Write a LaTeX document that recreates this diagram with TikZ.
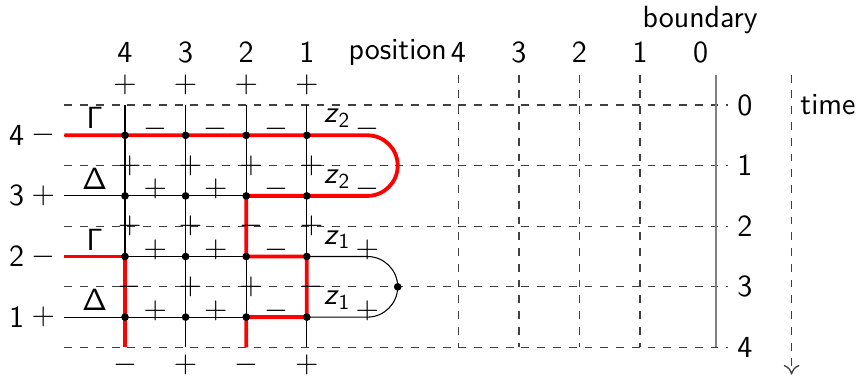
\documentclass[tikz,border=0pt]{standalone}
\usetikzlibrary{arrows.meta,positioning,calc}
\renewcommand{\familydefault}{\sfdefault}
\definecolor{chemin}{HTML}{FF0000}
\tikzset{
  fil/.style={line width=0.5pt, draw=black},
  chem/.style={line width=1.8pt, draw=chemin},
  grille/.style={dash pattern=on 3.7pt off 3.7pt, line width=0.6pt, draw=black!75},
  bord/.style={line width=1pt, draw=gray},
  pt/.style={circle, fill=black, inner sep=0pt, minimum size=3.6pt},
  lab/.style={inner sep=0pt, font=\Large},
}

\begin{document}
\begin{tikzpicture}
    \useasboundingbox (-1.063,-4.49) rectangle (13.063,1.733);
    % coordonnees: colonne c, ligne r
    \foreach \c in {1,...,4} {
      \coordinate (h-\c) at (5-\c,0);
      \coordinate (b-\c) at (5-\c,-4);
      \foreach \r in {1,...,4} { \coordinate (v-\c-\r) at (5-\c,\r-4.5); }
    }
    \foreach \r in {1,...,4} {
      \coordinate (l-\r) at (0,\r-4.5);
      \coordinate (e-\r) at (5,\r-4.5);
    }
    % grille en pointilles
    \foreach \t in {0,...,4} {
      \coordinate (g\t) at (0,-\t); \coordinate (d\t) at (10.95,-\t);
      \draw[grille] (g\t) -- (d\t);
      \node[lab, anchor=west] (t\t) at (11.1,-\t) {\t};
    }
    \foreach \p [count=\k] in {4,3,2,1} {
      \coordinate (p\p) at (5.5+\k,0.5); \coordinate (q\p) at (5.5+\k,-4);
      \draw[grille] (p\p) -- (q\p);
      \node[lab] (n\p) at (5.5+\k,0.87) {\p};
    }
    \node[lab] (n0) at (10.5,0.87) {0};
    \node[lab] (pos) at (5.5,0.87) {position};
    \node[lab] (bd) at (10.49,1.4) {boundary};
    \coordinate (bh) at (10.75,0.5); \coordinate (bb) at (10.75,-4);
    \draw[bord] (bh) -- (bb);
    \coordinate (ah) at (12,0.5); \coordinate (ab) at (12,-4.45);
    \draw[grille, -{To[length=1.6mm,width=2.6mm]}] (ah) -- (ab);
    \node[lab] (time) at (12.6,0) {time};
    % fils noirs
    \foreach \c in {1,...,4} { \draw[fil] (h-\c) -- (b-\c); }
    \foreach \r in {1,...,4} { \draw[fil] (l-\r) -- (v-1-\r); }
    \draw[fil] (v-1-2) -- (e-2) arc[start angle=90, end angle=-90, radius=0.5] -- (v-1-1);
    % chemins rouges
    \draw[chem] (l-4) -- (e-4) arc[start angle=90, end angle=-90, radius=0.5]
      -- (v-2-3) -- (v-2-2) -- (v-1-2) -- (v-1-1) -- (v-2-1) -- (b-2);
    \draw[chem] (l-2) -- (v-4-2) -- (b-4);
    % sommets
    \foreach \c in {1,...,4} { \foreach \r in {1,...,4} { \node[pt] (o-\c-\r) at (v-\c-\r) {}; } }
    \node[pt] (tour) at (5.5,-3) {};
    % etiquettes des colonnes et lignes
    \foreach \c/\s in {4/+,3/+,2/+,1/+} {
      \node[lab] (cl\c) at (5-\c,0.87) {\c};
      \node[lab] (ct\c) at (5-\c,0.33) {$\s$};
    }
    \foreach \c/\s in {4/-,3/+,2/-,1/+} { \node[lab] (cb\c) at (5-\c,-4.29) {$\s$}; }
    \foreach \r/\s in {4/-,3/+,2/-,1/+} {
      \node[lab] (rl\r) at (-0.79,\r-4.5) {\r};
      \node[lab] (rs\r) at (-0.35,\r-4.5) {$\s$};
    }
    \foreach \y/\g in {0/Γ,1/Δ,2/Γ,3/Δ} {
      \node[lab] (gd\y) at (0.5,-\y-0.22) {\g};
    }
    \foreach \y/\z in {0/2,1/2,2/1,3/1} {
      \node[lab] (z\y) at (4.5,-\y-0.22) {\textit{z}\textsubscript{\z}};
    }
    % signes sur les lignes
    \foreach \r/\a/\b/\cc/\d in {4/-/-/-/-,3/+/+/-/-,2/+/+/-/+,1/+/+/-/+} {
      \node[lab] (sa\r) at (1.5,\r-4.39) {$\a$};
      \node[lab] (sb\r) at (2.5,\r-4.39) {$\b$};
      \node[lab] (sc\r) at (3.5,\r-4.39) {$\cc$};
      \node[lab] (sd\r) at (5,\r-4.39) {$\d$};
    }
    % signes sur les colonnes
    \foreach \t/\a/\b/\cc/\d in {1/+/+/+/+,2/+/+/-/+,3/-/+/+/-} {
      \node[lab] (ua\t) at (1.08,-\t) {$\a$};
      \node[lab] (ub\t) at (2.08,-\t) {$\b$};
      \node[lab] (uc\t) at (3.08,-\t) {$\cc$};
      \node[lab] (ud\t) at (4.08,-\t) {$\d$};
    }
  \end{tikzpicture}
\end{document}
